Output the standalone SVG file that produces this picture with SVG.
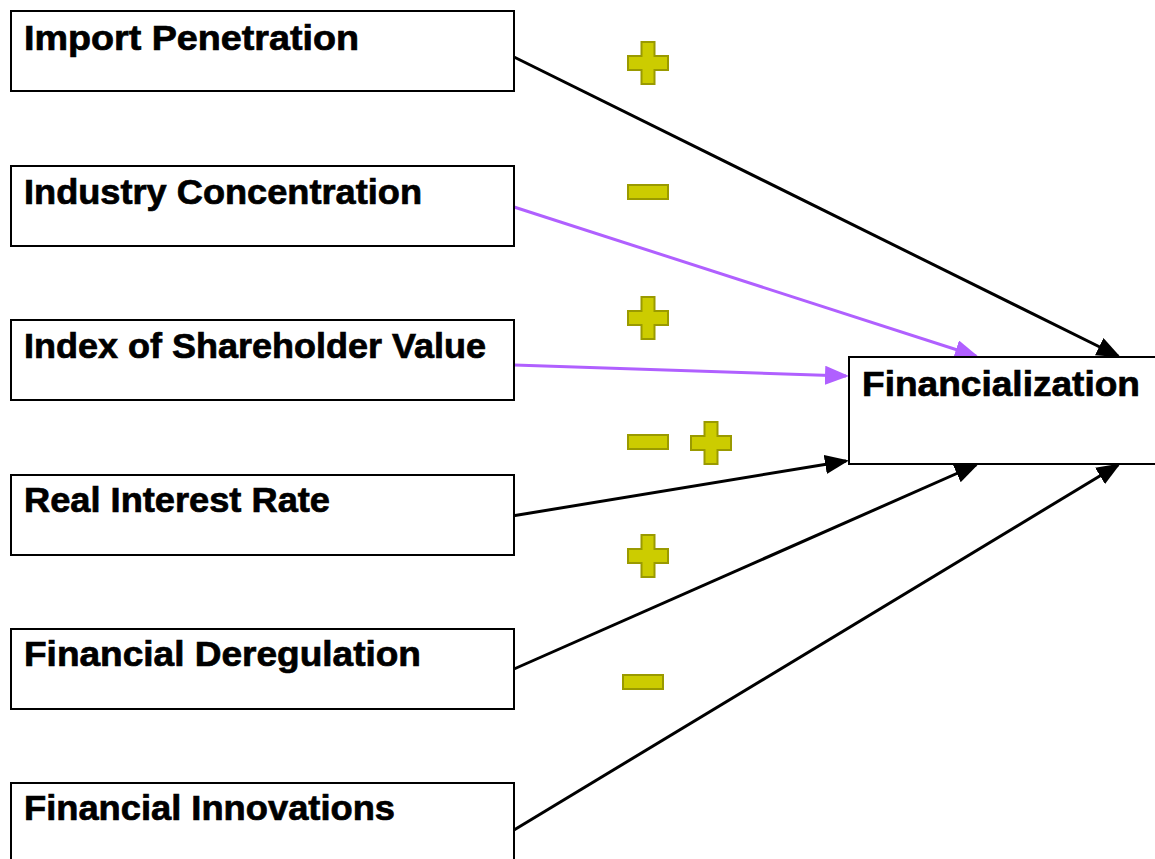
<svg xmlns="http://www.w3.org/2000/svg" width="1155" height="859" viewBox="0 0 1155 859">
<style>
.box{fill:#fff;stroke:#000;stroke-width:2}
.lbl{font-family:"Liberation Sans",Arial,sans-serif;font-weight:bold;font-size:35px;fill:#000;stroke:#000;stroke-width:0.7}
.blk{stroke:#000;stroke-width:3;fill:none}
.pur{stroke:#b060ff;stroke-width:3;fill:none}
.sign{fill:#cccc00;stroke:#9a9a00;stroke-width:2}
</style>
<defs>
<marker id="ab" markerWidth="8" markerHeight="6.4" refX="7" refY="3.2" orient="auto" markerUnits="strokeWidth"><path d="M0,0 L8,3.2 L0,6.4 Z" fill="#000"/></marker>
<marker id="ap" markerWidth="8" markerHeight="6.4" refX="7" refY="3.2" orient="auto" markerUnits="strokeWidth"><path d="M0,0 L8,3.2 L0,6.4 Z" fill="#b060ff"/></marker>
<path id="plus" d="M-6.5,-21 H6.5 V-7 H20 V7 H6.5 V21 H-6.5 V7 H-20 V-7 H-6.5 Z"/>
<rect id="minus" x="-20" y="-7" width="40" height="14"/>
</defs>
<g id="connectors">
<line class="blk" x1="514" y1="57" x2="1118" y2="356" marker-end="url(#ab)"/>
<line class="pur" x1="514" y1="207" x2="976" y2="356" marker-end="url(#ap)"/>
<line class="pur" x1="514" y1="365" x2="846" y2="376" marker-end="url(#ap)"/>
<line class="blk" x1="512" y1="516" x2="846" y2="461" marker-end="url(#ab)"/>
<line class="blk" x1="514" y1="669" x2="976" y2="465" marker-end="url(#ab)"/>
<line class="blk" x1="514" y1="830" x2="1118" y2="465" marker-end="url(#ab)"/>
</g>
<g id="n-import"><rect class="box" x="11" y="11" width="503" height="80"/><text class="lbl" x="24" y="50" textLength="335" lengthAdjust="spacingAndGlyphs">Import Penetration</text></g>
<g id="n-industry"><rect class="box" x="11" y="166" width="503" height="80"/><text class="lbl" x="24" y="204" textLength="398" lengthAdjust="spacingAndGlyphs">Industry Concentration</text></g>
<g id="n-index"><rect class="box" x="11" y="320" width="503" height="80"/><text class="lbl" x="24" y="358" textLength="462" lengthAdjust="spacingAndGlyphs">Index of Shareholder Value</text></g>
<g id="n-real"><rect class="box" x="11" y="475" width="503" height="80"/><text class="lbl" x="24" y="512" textLength="306" lengthAdjust="spacingAndGlyphs">Real Interest Rate</text></g>
<g id="n-dereg"><rect class="box" x="11" y="629" width="503" height="80"/><text class="lbl" x="24" y="666" textLength="397" lengthAdjust="spacingAndGlyphs">Financial Deregulation</text></g>
<g id="n-innov"><rect class="box" x="11" y="783" width="503" height="90"/><text class="lbl" x="24" y="820" textLength="371" lengthAdjust="spacingAndGlyphs">Financial Innovations</text></g>
<g id="n-fin"><rect class="box" x="849" y="357" width="320" height="107"/><text class="lbl" x="862" y="396" textLength="278" lengthAdjust="spacingAndGlyphs">Financialization</text></g>
<g id="signs">
<use href="#plus" class="sign" x="648" y="63"/>
<use href="#minus" class="sign" x="648" y="192"/>
<use href="#plus" class="sign" x="648" y="318"/>
<use href="#minus" class="sign" x="648" y="442"/>
<use href="#plus" class="sign" x="711" y="443"/>
<use href="#plus" class="sign" x="648" y="556"/>
<use href="#minus" class="sign" x="643" y="682"/>
</g>
</svg>
